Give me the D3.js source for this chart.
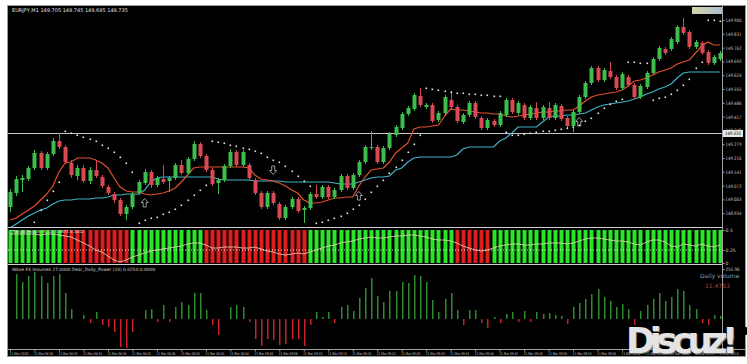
<!DOCTYPE html>
<html>
<head>
<meta charset="utf-8">
<script src="https://cdn.jsdelivr.net/npm/d3@7"></script>
<style>
body { margin: 0; background: #fff; }
text { font-family: "DejaVu Sans", sans-serif; }
</style>
</head>
<body>
<div id="vis"></div>
<script>
var width = 747,
    height = 364;

// ---------- DATA ----------
var symbolTitle = "EURJPY,M1";

var open = [148.965,149.035,149.100,149.105,149.160, 149.235,149.160,149.230,149.295,149.265,
            149.185,149.120,149.160,149.095,149.150, 149.115,149.065,149.030,149.000,148.930,
            148.965,149.035,149.085,149.140,149.075, 149.105,149.095,149.110,149.175,149.135,
            149.205,149.280,149.220,149.150,149.085, 149.100,149.170,149.240,149.175,149.175,
            149.100,149.035,148.965,149.035,148.980, 148.910,148.965,149.005,148.950,148.960,
            149.030,149.015,149.065,149.015,149.050, 149.120,149.060,149.125,149.190,149.260,
            149.265,149.190,149.260,149.325,149.360, 149.430,149.455,149.520,149.465,149.475,
            149.400,149.435,149.500,149.465,149.390, 149.425,149.485,149.410,149.360,149.395,
            149.375,149.425,149.500,149.435,149.475, 149.410,149.460,149.410,149.460,149.410,
            149.470,149.410,149.370,149.440,149.515, 149.585,149.660,149.600,149.645,149.615,
            149.560,149.615,149.575,149.515,149.565, 149.635,149.705,149.755,149.755,149.790,
            149.865,149.840,149.765,149.785,149.740, 149.685,149.705];
var close = [149.040,149.105,149.110,149.160,149.235, 149.160,149.230,149.295,149.265,149.190,
             149.125,149.160,149.095,149.150,149.120, 149.070,149.035,149.000,148.930,148.965,
             149.030,149.090,149.140,149.075,149.110, 149.090,149.110,149.175,149.135,149.205,
             149.280,149.220,149.150,149.080,149.100, 149.170,149.240,149.175,149.240,149.110,
             149.035,148.965,149.035,148.985,148.910, 148.965,149.005,148.945,148.960,149.030,
             149.015,149.065,149.015,149.050,149.120, 149.060,149.125,149.190,149.265,149.265,
             149.190,149.260,149.330,149.365,149.430, 149.460,149.525,149.475,149.475,149.395,
             149.435,149.515,149.465,149.395,149.425, 149.485,149.415,149.360,149.400,149.375,
             149.435,149.500,149.440,149.485,149.410, 149.465,149.410,149.465,149.410,149.475,
             149.405,149.370,149.440,149.515,149.585, 149.660,149.600,149.650,149.615,149.560,
             149.630,149.575,149.515,149.570,149.635, 149.705,149.760,149.735,149.805,149.865,
             149.835,149.765,149.790,149.735,149.685, 149.715,149.735];
var high = [149.055,149.120,149.125,149.170,149.250, 149.245,149.240,149.310,149.335,149.275,
            149.200,149.175,149.175,149.165,149.200, 149.125,149.075,149.040,149.010,148.975,
            149.040,149.100,149.155,149.150,149.120, 149.175,149.120,149.185,149.200,149.215,
            149.295,149.290,149.230,149.160,149.110, 149.180,149.255,149.250,149.250,149.185,
            149.110,149.045,149.045,149.045,148.990, 148.975,149.015,149.015,148.970,149.040,
            149.075,149.075,149.075,149.060,149.130, 149.130,149.135,149.200,149.275,149.345,
            149.275,149.270,149.340,149.375,149.440, 149.470,149.535,149.560,149.485,149.485,
            149.445,149.525,149.545,149.475,149.435, 149.495,149.495,149.420,149.410,149.405,
            149.445,149.510,149.510,149.495,149.485, 149.475,149.490,149.475,149.490,149.485,
            149.480,149.420,149.450,149.525,149.595, 149.670,149.670,149.660,149.690,149.625,
            149.640,149.625,149.585,149.580,149.645, 149.715,149.770,149.765,149.815,149.875,
            149.910,149.850,149.800,149.795,149.750, 149.725,149.745];
var low = [148.940,149.020,149.040,149.095,149.150, 149.150,149.150,149.220,149.255,149.180,
           149.110,149.100,149.085,149.080,149.110, 149.060,149.025,148.985,148.920,148.900,
           148.955,149.025,149.075,149.060,149.065, 149.080,149.040,149.100,149.125,149.125,
           149.195,149.210,149.140,149.070,149.030, 149.090,149.160,149.165,149.165,149.100,
           149.025,148.955,148.955,148.975,148.900, 148.900,148.955,148.935,148.885,148.950,
           149.005,149.005,149.005,149.005,149.040, 149.050,149.050,149.115,149.180,149.250,
           149.180,149.180,149.250,149.315,149.350, 149.420,149.445,149.465,149.455,149.385,
           149.390,149.425,149.455,149.385,149.380, 149.415,149.405,149.350,149.350,149.365,
           149.365,149.415,149.430,149.425,149.400, 149.400,149.400,149.400,149.400,149.400,
           149.395,149.360,149.340,149.430,149.505, 149.575,149.590,149.590,149.605,149.550,
           149.550,149.565,149.505,149.505,149.555, 149.625,149.695,149.725,149.745,149.780,
           149.825,149.755,149.755,149.725,149.675, 149.675,149.695];

// moving averages drawn on the price chart
var maRed = [148.900,148.910,148.930,148.950,148.970, 149.000,149.030,149.070,149.140,149.185,
             149.190,149.210,149.210,149.210,149.200, 149.185,149.160,149.110,149.065,149.045,
             149.040,149.040,149.030,149.025,149.030, 149.035,149.045,149.060,149.090,149.125,
             149.160,149.165,149.165,149.165,149.165, 149.165,149.165,149.165,149.165,149.160,
             149.125,149.105,149.100,149.095,149.085, 149.070,149.050,149.035,149.000,148.985,
             148.985,148.990,149.000,149.010,149.010, 149.015,149.015,149.070,149.115,149.150,
             149.155,149.160,149.190,149.235,149.260, 149.285,149.355,149.365,149.365,149.370,
             149.375,149.420,149.455,149.450,149.450, 149.445,149.440,149.435,149.435,149.430,
             149.430,149.420,149.415,149.420,149.425, 149.430,149.435,149.440,149.440,149.445,
             149.445,149.450,149.450,149.470,149.495, 149.515,149.525,149.530,149.535,149.540,
             149.550,149.570,149.595,149.600,149.610, 149.625,149.640,149.650,149.660,149.680,
             149.690,149.700,149.735,149.770,149.790, 149.775,149.775];
var maCyan = [148.860,148.880,148.900,148.920,148.935, 148.950,148.960,148.980,148.995,149.000,
              149.000,149.005,149.005,149.005,149.010, 149.010,149.015,149.025,149.025,149.030,
              149.030,149.030,149.050,149.090,149.110, 149.115,149.115,149.115,149.115,149.115,
              149.115,149.115,149.115,149.115,149.105, 149.100,149.100,149.100,149.100,149.100,
              149.095,149.095,149.095,149.095,149.095, 149.090,149.090,149.090,149.090,149.090,
              149.090,149.090,149.090,149.085,149.080, 149.080,149.080,149.090,149.100,149.110,
              149.115,149.115,149.120,149.150,149.160, 149.190,149.210,149.215,149.215,149.215,
              149.215,149.215,149.215,149.225,149.255, 149.265,149.265,149.265,149.265,149.265,
              149.295,149.310,149.335,149.365,149.365, 149.365,149.365,149.390,149.415,149.420,
              149.420,149.425,149.425,149.430,149.435, 149.450,149.465,149.475,149.480,149.485,
              149.490,149.495,149.505,149.515,149.530, 149.540,149.555,149.565,149.580,149.610,
              149.635,149.640,149.640,149.640,149.640, 149.640,149.640];
// parabolic SAR dots (null = no dot seen)
var sar = [null,null,null,null,148.890, 148.950,149.000,149.045,149.090,149.345,
           149.335,149.325,149.315,149.305,149.295, 149.275,149.260,149.240,149.215,149.185,
           149.140,148.885,148.900,148.910,148.915, 148.930,148.940,148.955,148.975,149.000,
           149.025,149.050,149.075,149.295,149.290, 149.285,149.275,149.270,149.260,149.255,
           149.245,149.235,149.215,149.200,149.190, 149.170,149.145,149.120,149.095,149.070,
           148.885,148.890,148.900,148.910,148.920, 148.935,148.955,148.975,149.005,149.040,
           149.070,149.100,149.135,149.165,149.200, 149.240,149.280,149.325,149.560,149.555,
           149.550,149.545,149.540,149.535,149.535, 149.530,149.530,149.525,149.525,149.520,
           149.520,149.340,149.325,149.325,149.330, 149.335,149.340,149.345,149.345,149.350,
           149.355,149.360,149.365,149.375,149.395, 149.410,149.435,149.460,149.480,149.495,
           149.505,149.690,149.690,149.685,149.685, 149.500,149.510,149.515,149.530,149.550,
           149.575,149.605,149.660,149.690,149.900, 149.900,149.895];

// signal arrows
var arrowIndex = [22, 43, 57, 93];
var arrowDir = ["up", "down", "up", "up"];
var arrowPrice = [148.985, 149.150, 149.020, 149.390];

var hLinePrice = 149.335;
var priceTicks = [149.900,149.831,149.762,149.693,149.624,149.555,149.486,149.417,
                  149.348,149.279,149.210,149.141,149.072,149.003,148.934];

// trend strip (1 = green, 0 = red) and its line
var trendState = [1,1,1,1,1,1,1,1,1, 0,0,0,0,0,0,0,0,0,0,0,
                  1,1,1,1,1,1,1,1,1,1,1,1,
                  0,0,0,0,0,0,0,0,0,0,0,0,0,0,0,0,0,
                  1,1,1,1,1,1,1,1,1,1,1,1,1,1,1,1,1,1,1,1,1,1,1,1,
                  0,0,0,0,0,0,
                  1,1,1,1,1,1,1,1,1,1,1,1,1,1,1,1,1,1,1,1,1,1,1,1,1,1,1,1,1,1,1,1,1,1,1,1,1,1];
var trendLine = [29,29,29,29,29,28,29,29,28,27, 26,23,20,17,13,11,7,3,1,3,
                 6,8,10,12,13,14,15,16,17,19, 20,20,18,15,15,16,16,16,15,15,
                 16,14,12,11,9,8,9,10,9,11, 13,15,17,18,20,21,22,24,25,26,
                 25,25,26,27,27,28,28,27,26,24, 23,23,22,20,17,15,13,12,13,15,
                 17,18,19,19,18,18,19,19,20,20, 20,19,20,22,24,25,25,24,23,22,
                 22,21,19,18,21,23,23,21,17,16, 19,18,17,19,17,16,18];
var trendLevel = 13;

// volume oscillator
var volume = [0,45,37,43,47,43,36,43,45,26, 10,0,4,-4,7,-6,-8,-13,-28,-29,
              -13,0,9,10,-3,14,-3,12,17,14, 26,26,9,-6,-16,0,12,14,12,-3,
              -20,-27,-20,-21,-26,-25,-20,-20,-27,-6, 7,2,7,-4,12,14,8,21,31,41,
              23,17,28,28,37,36,44,43,37,19, 7,20,26,9,-6,9,9,-4,-9,2,
              -4,5,7,-3,8,-3,7,5,6,4, 3,-5,12,16,20,25,30,22,18,12,
              15,10,-6,8,14,20,26,18,22,30, 28,14,10,-4,-6,4,3];

var timeLabels = ["11 Mar 2020"];
var t0 = 8 * 60 + 22;
for (var k = 1; k < 30; k++) {
    var m = t0 + k * 4;
    timeLabels.push("11 Mar " + String(Math.floor(m / 60)).padStart(2, "0") + ":" + String(m % 60).padStart(2, "0"));
}

// ---------- LAYOUT ----------
var left = 8, axisX = 722, right = 745;
var mainTop = 6, mainBottom = 227;
var indTop = 228, indBottom = 264;
var volTop = 265, volBottom = 349;

var svg = d3.select("#vis").append("svg")
    .attr("width", width)
    .attr("height", height)
    .style("display", "block");

svg.append("rect").attr("width", width).attr("height", height).attr("fill", "#fff");
svg.append("rect")
    .attr("x", left - 0.5).attr("y", mainTop - 0.5)
    .attr("width", right - left + 1).attr("height", 357 - mainTop)
    .attr("fill", "#000").attr("stroke", "#9a9a9a");

var x = d3.scaleLinear().domain([0, 116]).range([10, 720]);
var y = d3.scaleLinear().domain([148.87, 149.965]).range([226, 7]);
var yInd = d3.scaleLinear().domain([0, 33]).range([263, 230]);
var yVol = d3.scaleLinear().domain([-30, 53]).range([349, 266]);

var defs = svg.append("defs");
defs.append("clipPath").attr("id", "clipMain").append("rect")
    .attr("x", left).attr("y", mainTop).attr("width", axisX - left).attr("height", mainBottom - mainTop);
var grad = defs.append("linearGradient").attr("id", "boxGrad");
grad.append("stop").attr("offset", "0%").attr("stop-color", "#d8d6a8");
grad.append("stop").attr("offset", "100%").attr("stop-color", "#a9bfcf");

var idx = d3.range(open.length);
var green = "#3dbd4b", red = "#d84a52";

//----------MAIN PANEL---------//
var main = svg.append("g").attr("clip-path", "url(#clipMain)");

// horizontal line
main.append("line")
    .attr("x1", left).attr("x2", axisX)
    .attr("y1", Math.round(y(hLinePrice)) + 0.5).attr("y2", Math.round(y(hLinePrice)) + 0.5)
    .attr("stroke", "#c8c8c8").attr("stroke-width", 1);

var lineGen = function(arr) {
    return d3.line().defined(function(d) { return arr[d] != null; })
        .x(function(d) { return x(d); }).y(function(d) { return y(arr[d]); });
};
main.append("path").datum(idx).attr("d", lineGen(maCyan))
    .attr("fill", "none").attr("stroke", "#3fb3c4").attr("stroke-width", 1.2);
main.append("path").datum(idx).attr("d", lineGen(maRed))
    .attr("fill", "none").attr("stroke", "#e2502c").attr("stroke-width", 1.2);

var candle = main.selectAll(".candle").data(idx).enter().append("g").attr("class", "candle");
candle.append("line")
    .attr("x1", function(d) { return Math.round(x(d)) + 0.5; })
    .attr("x2", function(d) { return Math.round(x(d)) + 0.5; })
    .attr("y1", function(d) { return y(high[d]); })
    .attr("y2", function(d) { return y(low[d]); })
    .attr("stroke", function(d) { return close[d] >= open[d] ? green : red; });
candle.append("rect")
    .attr("x", function(d) { return Math.round(x(d)) - 1.5; })
    .attr("y", function(d) { return y(Math.max(open[d], close[d])); })
    .attr("width", 4)
    .attr("height", function(d) { return Math.max(1, Math.abs(y(open[d]) - y(close[d]))); })
    .attr("fill", function(d) { return close[d] >= open[d] ? green : red; });

main.selectAll(".sar").data(idx.filter(function(d) { return sar[d] != null; })).enter()
    .append("rect").attr("class", "sar")
    .attr("x", function(d) { return Math.round(x(d)) - 0.5; })
    .attr("y", function(d) { return y(sar[d]) - 0.5; })
    .attr("width", 1.6).attr("height", 1.6)
    .attr("fill", "#e8e8e8");

// hollow arrows (drawn as outline paths)
var arrowUp = "M0,-4.5L3.5,-0.5L1.5,-0.5L1.5,4L-1.5,4L-1.5,-0.5L-3.5,-0.5Z";
main.selectAll(".arrow").data(arrowIndex).enter().append("path")
    .attr("d", arrowUp)
    .attr("transform", function(d, i) {
        return "translate(" + x(d) + "," + y(arrowPrice[i]) + ")" + (arrowDir[i] == "up" ? "" : " rotate(180)");
    })
    .attr("fill", "none")
    .attr("stroke", "#bdbdbd")
    .attr("stroke-width", 0.8);

svg.append("text").attr("x", 12).attr("y", 12)
    .attr("font-size", "5px").attr("fill", "#e0e0e0")
    .text(symbolTitle + "  " + open[116].toFixed(3) + " " + high[116].toFixed(3) + " " +
          low[116].toFixed(3) + " " + close[116].toFixed(3));

svg.append("rect").attr("x", 692).attr("y", 7).attr("width", 30).attr("height", 7)
    .attr("fill", "url(#boxGrad)");

//----------TREND STRIP---------//
svg.selectAll(".tbar").data(idx).enter().append("rect").attr("class", "tbar")
    .attr("x", function(d) { return Math.round(x(d)) - 1.5; })
    .attr("y", yInd(33))
    .attr("width", 4)
    .attr("height", yInd(0) - yInd(33))
    .attr("fill", function(d) { return trendState[d] ? "#27e527" : "#e01d1d"; });
svg.append("line").attr("x1", left).attr("x2", axisX)
    .attr("y1", yInd(trendLevel)).attr("y2", yInd(trendLevel))
    .attr("stroke", "#e8e8e8").attr("stroke-dasharray", "1,2");
svg.append("path").datum(idx)
    .attr("d", d3.line().x(function(d) { return x(d); }).y(function(d) { return yInd(trendLine[d]); }))
    .attr("fill", "none").attr("stroke", "#f3d9c4").attr("stroke-width", 0.8);
svg.append("text").attr("x", 12).attr("y", 233)
    .attr("font-size", "4px").attr("fill", "#f0f0f0")
    .text("TrendStrength (5,13) 0.4571 0.3012");

//----------VOLUME PANEL---------//
svg.selectAll(".vbar").data(idx.filter(function(d) { return volume[d] != 0; })).enter()
    .append("rect").attr("class", "vbar")
    .attr("x", function(d) { return Math.round(x(d)); })
    .attr("y", function(d) { return volume[d] > 0 ? yVol(volume[d]) : yVol(0); })
    .attr("width", 1.5)
    .attr("height", function(d) { return Math.abs(yVol(volume[d]) - yVol(0)); })
    .attr("fill", function(d) { return volume[d] > 0 ? "#2f8a2f" : "#cc2027"; });
svg.append("text").attr("x", 12).attr("y", 271)
    .attr("font-size", "4.4px").attr("fill", "#d0d0d0")
    .text("Wave FX Volumes 27.0000  Dear_Dolly_Power (10)  0.0250 0.0000");
svg.append("text").attr("x", 700).attr("y", 278)
    .attr("font-size", "6px").attr("fill", "#9a9a9a").text("Daily volume");
svg.append("text").attr("x", 705).attr("y", 288)
    .attr("font-size", "6px").attr("fill", "#c8382c").text("11.4753");

//----------SEPARATORS & AXES---------//
[mainBottom, indBottom].forEach(function(v) {
    svg.append("line").attr("x1", left).attr("x2", axisX)
        .attr("y1", v + 0.5).attr("y2", v + 0.5).attr("stroke", "#d0d0d0");
});
svg.append("line").attr("x1", left).attr("x2", right)
    .attr("y1", volBottom + 0.5).attr("y2", volBottom + 0.5).attr("stroke", "#a0a0a0");
svg.append("line").attr("x1", axisX + 0.5).attr("x2", axisX + 0.5)
    .attr("y1", mainTop).attr("y2", volBottom).attr("stroke", "#a0a0a0");

function styleAxis(g) {
    g.select(".domain").remove();
    g.selectAll("line").attr("stroke", "#a0a0a0");
    g.selectAll("text").attr("fill", "#c0c0c0").attr("font-size", "4.6px").attr("x", 3)
        .attr("textLength", 16).attr("lengthAdjust", "spacingAndGlyphs");
}

var yAxis = svg.append("g").attr("transform", "translate(" + (axisX + 0.5) + ",0)")
    .call(d3.axisRight(y).tickValues(priceTicks).tickFormat(d3.format(".3f")).tickSize(2));
styleAxis(yAxis);

// horizontal line label
var hy = Math.round(y(hLinePrice));
svg.append("rect").attr("x", axisX + 1).attr("y", hy - 3).attr("width", 20).attr("height", 7).attr("fill", "#e6e6e6");
svg.append("text").attr("x", axisX + 3).attr("y", hy + 2.2).attr("font-size", "4.6px").attr("fill", "#000")
    .attr("textLength", 16).attr("lengthAdjust", "spacingAndGlyphs")
    .text(hLinePrice.toFixed(3));

var indAxis = svg.append("g").attr("transform", "translate(" + (axisX + 0.5) + ",0)")
    .call(d3.axisRight(yInd).tickValues([33, trendLevel, 0])
        .tickFormat(function(d) { return d == 33 ? "0.5" : (d == 0 ? "0" : "0.25"); }).tickSize(2));
indAxis.select(".domain").remove();
indAxis.selectAll("line").attr("stroke", "#a0a0a0");
indAxis.selectAll("text").attr("fill", "#c0c0c0").attr("font-size", "4.6px").attr("x", 3);

var volAxis = svg.append("g").attr("transform", "translate(" + (axisX + 0.5) + ",0)")
    .call(d3.axisRight(yVol).tickValues([50]).tickFormat(function() { return "255.96"; }).tickSize(2));
styleAxis(volAxis);
volAxis.selectAll("text").attr("textLength", 14);

var tickIdx = d3.range(0, 117, 4);
var xAxis = svg.append("g").attr("transform", "translate(0," + (volBottom + 0.5) + ")")
    .call(d3.axisBottom(x).tickValues(tickIdx).tickFormat(function(d) { return timeLabels[d / 4]; }).tickSize(2));
xAxis.select(".domain").remove();
xAxis.selectAll("line").attr("stroke", "#a0a0a0");
xAxis.selectAll("text").attr("fill", "#c0c0c0").attr("font-size", "3.8px")
    .attr("text-anchor", "start").attr("x", -1).attr("y", 3)
    .attr("textLength", 19).attr("lengthAdjust", "spacingAndGlyphs");

//----------WATERMARK---------//
svg.append("text").attr("x", 627).attr("y", 354)
    .attr("font-family", "Liberation Sans, Arial, sans-serif").attr("font-weight", "bold")
    .attr("font-size", "35px").attr("fill", "#707070").attr("textLength", 112)
    .text("Discuz!");
svg.append("text").attr("x", 626).attr("y", 353)
    .attr("font-family", "Liberation Sans, Arial, sans-serif").attr("font-weight", "bold")
    .attr("font-size", "35px").attr("fill", "#e4e4e4").attr("textLength", 112)
    .text("Discuz!");
svg.append("circle").attr("cx", 745).attr("cy", 331).attr("r", 4).attr("fill", "#000");
</script>
</body>
</html>
